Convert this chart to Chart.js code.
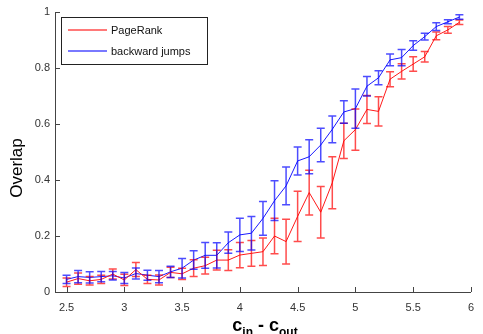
<!DOCTYPE html>
<html>
<head>
<meta charset="utf-8">
<script src="https://cdn.jsdelivr.net/npm/chart.js@4.4.0/dist/chart.umd.min.js"></script>
<style>
  html, body { margin: 0; padding: 0; background: #fff; }
  #wrap { width: 483px; height: 334px; position: relative; }
</style>
</head>
<body>
<div id="wrap"><canvas id="overlap"></canvas></div>
<script>
// c_in - c_out values
const xValues = [2.5, 2.6, 2.7, 2.8, 2.9, 3.0, 3.1, 3.2, 3.3, 3.4, 3.5, 3.6, 3.7, 3.8, 3.9, 4.0, 4.1, 4.2,
  4.3, 4.4, 4.5, 4.6, 4.7, 4.8, 4.9, 5.0, 5.1, 5.2, 5.3, 5.4, 5.5, 5.6, 5.7, 5.8, 5.9];

const pageRank = [0.035, 0.048, 0.040, 0.045, 0.064, 0.043, 0.080, 0.045, 0.043, 0.070, 0.065, 0.085,
  0.094, 0.114, 0.114, 0.132, 0.138, 0.144, 0.200, 0.180, 0.270, 0.355, 0.285, 0.390, 0.540, 0.580,
  0.652, 0.645, 0.760, 0.788, 0.814, 0.840, 0.915, 0.936, 0.963];
const pageRankErr = [0.015, 0.020, 0.015, 0.015, 0.018, 0.020, 0.025, 0.015, 0.018, 0.018, 0.020, 0.030,
  0.030, 0.035, 0.037, 0.045, 0.046, 0.049, 0.063, 0.080, 0.090, 0.080, 0.092, 0.093, 0.063, 0.074,
  0.050, 0.052, 0.027, 0.027, 0.026, 0.019, 0.014, 0.012, 0.008];

const backward = [0.045, 0.055, 0.052, 0.055, 0.058, 0.050, 0.066, 0.060, 0.055, 0.072, 0.085, 0.114,
  0.131, 0.131, 0.176, 0.204, 0.210, 0.263, 0.326, 0.379, 0.468, 0.483, 0.525, 0.581, 0.643, 0.655,
  0.735, 0.765, 0.829, 0.837, 0.880, 0.912, 0.948, 0.965, 0.982];
const backwardErr = [0.015, 0.022, 0.020, 0.018, 0.015, 0.020, 0.020, 0.018, 0.022, 0.020, 0.035, 0.033,
  0.046, 0.045, 0.038, 0.059, 0.060, 0.060, 0.071, 0.067, 0.050, 0.061, 0.060, 0.048, 0.040, 0.070,
  0.035, 0.025, 0.021, 0.029, 0.017, 0.012, 0.014, 0.007, 0.008];

const xTicks = [2.5, 3, 3.5, 4, 4.5, 5, 5.5, 6];
const yTicks = [0, 0.2, 0.4, 0.6, 0.8, 1];

const tickFont = { family: "'Liberation Sans', Arial, sans-serif", size: 11 };

const toPoints = (ys) => xValues.map((x, i) => ({ x: x, y: ys[i] }));

// matlab style error bars, drawn through the chart scales
const errorBars = {
  id: "errorBars",
  afterDatasetsDraw(chart) {
    const ctx = chart.ctx;
    const xs = chart.scales.x;
    const ys = chart.scales.y;
    chart.data.datasets.forEach((ds) => {
      ctx.save();
      ctx.strokeStyle = ds.errColor;
      ctx.lineWidth = 1.5;
      ds.data.forEach((p, i) => {
        const px = xs.getPixelForValue(p.x);
        const top = ys.getPixelForValue(p.y + ds.errors[i]);
        const bot = ys.getPixelForValue(p.y - ds.errors[i]);
        ctx.beginPath();
        ctx.moveTo(px, top);
        ctx.lineTo(px, bot);
        ctx.moveTo(px - 4, top);
        ctx.lineTo(px + 4, top);
        ctx.moveTo(px - 4, bot);
        ctx.lineTo(px + 4, bot);
        ctx.stroke();
      });
      ctx.restore();
    });
  },
  afterDraw(chart) {
    const ctx = chart.ctx;
    const xs = chart.scales.x;
    const ys = chart.scales.y;
    const area = chart.chartArea;
    ctx.save();
    // inward ticks
    ctx.strokeStyle = "#444";
    ctx.lineWidth = 1;
    ctx.beginPath();
    xTicks.forEach((t) => {
      const px = Math.round(xs.getPixelForValue(t)) + 0.5;
      ctx.moveTo(px, area.bottom);
      ctx.lineTo(px, area.bottom - 5);
    });
    yTicks.forEach((t) => {
      const py = Math.round(ys.getPixelForValue(t)) + 0.5;
      ctx.moveTo(area.left, py);
      ctx.lineTo(area.left + 5, py);
    });
    ctx.stroke();

    // legend box
    const lx = 61, ly = 17, lw = 146, lh = 47;
    ctx.fillStyle = "#fff";
    ctx.fillRect(lx, ly, lw, lh);
    ctx.strokeStyle = "#222";
    ctx.strokeRect(lx + 0.5, ly + 0.5, lw, lh);
    ctx.font = "11px 'Liberation Sans', Arial, sans-serif";
    ctx.textBaseline = "middle";
    chart.data.datasets.forEach((ds, i) => {
      const yy = ly + 13 + i * 21;
      ctx.strokeStyle = ds.errColor;
      ctx.lineWidth = 1.5;
      ctx.beginPath();
      ctx.moveTo(68, yy);
      ctx.lineTo(107, yy);
      ctx.stroke();
      ctx.fillStyle = "#111";
      ctx.fillText(ds.label, 111, yy + 1);
    });

    // axis titles
    ctx.fillStyle = "#000";
    ctx.save();
    ctx.translate(22, 168);
    ctx.rotate(-Math.PI / 2);
    ctx.textAlign = "center";
    ctx.textBaseline = "alphabetic";
    ctx.font = "17px 'Liberation Sans', Arial, sans-serif";
    ctx.fillText("Overlap", 0, 0);
    ctx.restore();

    const parts = [["c", 18, 0], ["in", 12, 5], [" - ", 18, 0], ["c", 18, 0], ["out", 12, 5]];
    ctx.textBaseline = "alphabetic";
    ctx.textAlign = "left";
    let total = 0;
    parts.forEach((p) => {
      ctx.font = "bold " + p[1] + "px 'Liberation Sans', Arial, sans-serif";
      total += ctx.measureText(p[0]).width;
    });
    let cx = 265 - total / 2;
    parts.forEach((p) => {
      ctx.font = "bold " + p[1] + "px 'Liberation Sans', Arial, sans-serif";
      ctx.fillText(p[0], cx, 331 + p[2]);
      cx += ctx.measureText(p[0]).width;
    });
    ctx.restore();
  }
};

new Chart(document.getElementById("overlap"), {
  type: "line",
  data: {
    datasets: [
      {
        label: "PageRank",
        data: toPoints(pageRank),
        errors: pageRankErr,
        borderColor: "#ff1a1a",
        errColor: "rgba(255,0,0,0.7)",
        borderWidth: 1,
        pointRadius: 0,
        tension: 0,
        fill: false
      },
      {
        label: "backward jumps",
        data: toPoints(backward),
        errors: backwardErr,
        borderColor: "#1a1aff",
        errColor: "rgba(0,0,255,0.7)",
        borderWidth: 1,
        pointRadius: 0,
        tension: 0,
        fill: false
      }
    ]
  },
  options: {
    responsive: true,
    maintainAspectRatio: false,
    animation: false,
    devicePixelRatio: 1,
    layout: { padding: { left: 0, right: 3, top: 12, bottom: 0 } },
    plugins: { legend: { display: false }, tooltip: { enabled: false } },
    scales: {
      x: {
        type: "linear",
        min: 2.4,
        max: 6,
        afterFit: (s) => { s.height = 42; },
        afterBuildTicks: (s) => { s.ticks = xTicks.map((v) => ({ value: v })); },
        grid: { display: false, drawTicks: false },
        border: { display: true, color: "#444", width: 1 },
        ticks: { color: "#333", font: tickFont, padding: 9, maxRotation: 0, callback: (v) => String(v) }
      },
      y: {
        type: "linear",
        min: 0,
        max: 1,
        afterFit: (s) => { s.width = 55; },
        afterBuildTicks: (s) => { s.ticks = yTicks.map((v) => ({ value: v })); },
        grid: { display: false, drawTicks: false },
        border: { display: true, color: "#444", width: 1 },
        ticks: { color: "#333", font: tickFont, padding: 5, callback: (v) => String(v) }
      }
    }
  },
  plugins: [errorBars]
});
</script>
</body>
</html>
